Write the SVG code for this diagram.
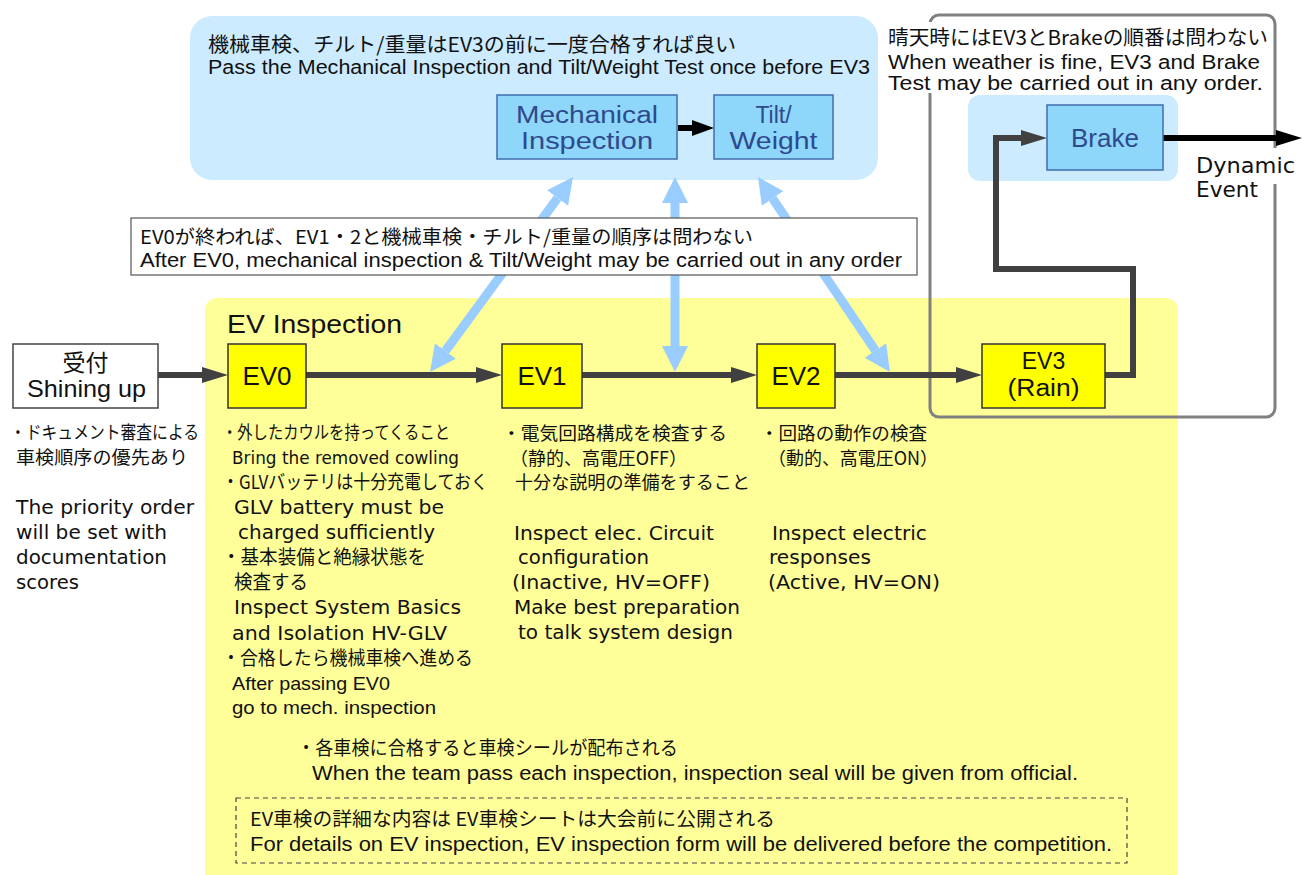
<svg xmlns="http://www.w3.org/2000/svg" width="1302" height="875" viewBox="0 0 1302 875">
<style>
  .jp { font-family: "Noto Sans CJK JP", "Noto Sans CJK SC", sans-serif; fill: #111; }
  .cn { font-family: "Liberation Sans", "Noto Sans CJK JP", sans-serif; fill: #111; }
  .vd { font-family: "DejaVu Sans", "Noto Sans CJK JP", sans-serif; fill: #111; }
  .ar { font-family: "Liberation Sans", Arial, sans-serif; fill: #111; }
  .blue-node { fill: #8ED6FA; stroke: #3F6EAD; stroke-width: 1.5; }
  .blue-txt { font-family: "Liberation Sans", Arial, sans-serif; fill: #2E4A8C; text-anchor: middle; }
  .ev-node { fill: #FFFF00; stroke: #333; stroke-width: 1.5; }
  .ev-txt { font-family: "Liberation Sans", Arial, sans-serif; fill: #111; text-anchor: middle; }
  .conn { fill: none; stroke: #404040; stroke-width: 6; stroke-linejoin: miter; }
  .conn-k { fill: none; stroke: #000; stroke-width: 6; }
  .biarrow { fill: none; stroke: #99CCFF; stroke-width: 9; }
</style>
<defs>
  <marker id="ah" viewBox="0 0 10 10" refX="0" refY="5" markerWidth="26" markerHeight="16" markerUnits="userSpaceOnUse" orient="auto" preserveAspectRatio="none">
    <path d="M0,0 L10,5 L0,10 z" fill="#404040"/>
  </marker>
  <marker id="ahk" viewBox="0 0 10 10" refX="0" refY="5" markerWidth="26" markerHeight="16" markerUnits="userSpaceOnUse" orient="auto" preserveAspectRatio="none">
    <path d="M0,0 L10,5 L0,10 z" fill="#000"/>
  </marker>
  <marker id="ahk2" viewBox="0 0 10 10" refX="0" refY="5" markerWidth="22" markerHeight="16" markerUnits="userSpaceOnUse" orient="auto" preserveAspectRatio="none">
    <path d="M0,0 L10,5 L0,10 z" fill="#000"/>
  </marker>
  <marker id="bh" viewBox="0 0 10 10" refX="0" refY="5" markerWidth="26" markerHeight="26" markerUnits="userSpaceOnUse" orient="auto-start-reverse" preserveAspectRatio="none">
    <path d="M0,0 L10,5 L0,10 z" fill="#99CCFF"/>
  </marker>
</defs>

<!-- background regions -->
<g id="ev-inspection-area">
  <path d="M205,875 V310 a12,12 0 0 1 12,-12 H1166 a12,12 0 0 1 12,12 V875 z" fill="#FFFF99"/>
  <text class="cn" x="227" y="333" font-size="26" textLength="175" lengthAdjust="spacingAndGlyphs">EV Inspection</text>
</g>
<g id="mech-area">
  <rect x="190" y="16" width="688" height="164" rx="22" fill="#CCEBFF"/>
  <text class="jp" x="208" y="52" font-size="20" textLength="528" lengthAdjust="spacingAndGlyphs">機械車検、チルト/重量はEV3の前に一度合格すれば良い</text>
  <text class="cn" x="208" y="74" font-size="20" textLength="662" lengthAdjust="spacingAndGlyphs">Pass the Mechanical Inspection and Tilt/Weight Test once before EV3</text>
</g>
<g id="brake-area">
  <rect x="968" y="95" width="210" height="86" rx="12" fill="#CCEBFF"/>
</g>
<g id="weather-area">
  <rect x="930" y="15" width="345" height="402" rx="9" fill="none" stroke="#808080" stroke-width="3"/>
  <rect x="886" y="22" width="384" height="71" fill="#FFFFFF"/>
  <text class="jp" x="888" y="45" font-size="20" textLength="380" lengthAdjust="spacingAndGlyphs">晴天時にはEV3とBrakeの順番は問わない</text>
  <text class="ar" x="888" y="69" font-size="20" textLength="372" lengthAdjust="spacingAndGlyphs">When weather is fine, EV3 and Brake</text>
  <text class="ar" x="888" y="90" font-size="20" textLength="375" lengthAdjust="spacingAndGlyphs">Test may be carried out in any order.</text>
</g>

<!-- connectors -->
<g id="connectors">
  <path class="biarrow" d="M445.4,351 L557.6,198" marker-start="url(#bh)" marker-end="url(#bh)"/>
  <path class="biarrow" d="M675,346 L675,203" marker-start="url(#bh)" marker-end="url(#bh)"/>
  <path class="biarrow" d="M875.4,350.5 L772.6,198.5" marker-start="url(#bh)" marker-end="url(#bh)"/>
  <path class="conn" d="M158,375 H202" marker-end="url(#ah)"/>
  <path class="conn" d="M306,375 H476" marker-end="url(#ah)"/>
  <path class="conn" d="M582,375 H731" marker-end="url(#ah)"/>
  <path class="conn" d="M835,375 H956" marker-end="url(#ah)"/>
  <path class="conn" d="M1105,375 H1133 V269 H996 V138 H1021" marker-end="url(#ah)"/>
  <path class="conn-k" d="M1163,138 H1276" marker-end="url(#ahk)"/>
  <path class="conn-k" d="M678,128 H692" marker-end="url(#ahk2)"/>
</g>

<g id="order-note">
  <rect x="131" y="218" width="786" height="57" fill="#FFFFFF" stroke="#555" stroke-width="1.2"/>
  <text class="jp" x="140" y="244" font-size="19" textLength="613" lengthAdjust="spacingAndGlyphs">EV0が終われば、EV1・2と機械車検・チルト/重量の順序は問わない</text>
  <text class="cn" x="140" y="267" font-size="20" textLength="762" lengthAdjust="spacingAndGlyphs">After EV0, mechanical inspection &amp; Tilt/Weight may be carried out in any order</text>
</g>

<g id="dynamic-label">
  <rect x="1193" y="148" width="105" height="36" fill="#FFFFFF"/>
  <text class="vd" x="1196" y="173" font-size="21" textLength="99" lengthAdjust="spacingAndGlyphs">Dynamic</text>
  <text class="vd" x="1196" y="197" font-size="21" textLength="62" lengthAdjust="spacingAndGlyphs">Event</text>
</g>

<!-- nodes -->
<g id="node-mechanical">
  <rect class="blue-node" x="497" y="95" width="180" height="64"/>
  <text class="blue-txt" x="587" y="123" font-size="23" textLength="142" lengthAdjust="spacingAndGlyphs">Mechanical</text>
  <text class="blue-txt" x="587" y="149" font-size="23" textLength="132" lengthAdjust="spacingAndGlyphs">Inspection</text>
</g>
<g id="node-tilt">
  <rect class="blue-node" x="714" y="95" width="119" height="64"/>
  <text class="blue-txt" x="773.5" y="123" font-size="23">Tilt/</text>
  <text class="blue-txt" x="773.5" y="149" font-size="23" textLength="88" lengthAdjust="spacingAndGlyphs">Weight</text>
</g>
<g id="node-brake">
  <rect class="blue-node" x="1047" y="105" width="116" height="65"/>
  <text class="blue-txt" x="1105" y="147" font-size="26">Brake</text>
</g>
<g id="node-reception">
  <rect x="13" y="344" width="145" height="64" fill="#FFFFFF" stroke="#444" stroke-width="1.5"/>
  <text class="jp" x="85.5" y="371" font-size="23" text-anchor="middle">受付</text>
  <text class="cn" x="27" y="397" font-size="24" textLength="119" lengthAdjust="spacingAndGlyphs">Shining up</text>
</g>
<g id="node-ev0">
  <rect class="ev-node" x="228" y="344" width="78" height="64"/>
  <text class="ev-txt" x="267" y="385" font-size="26">EV0</text>
</g>
<g id="node-ev1">
  <rect class="ev-node" x="502" y="344" width="80" height="64"/>
  <text class="ev-txt" x="542" y="385" font-size="26">EV1</text>
</g>
<g id="node-ev2">
  <rect class="ev-node" x="757" y="344" width="78" height="64"/>
  <text class="ev-txt" x="796" y="385" font-size="26">EV2</text>
</g>
<g id="node-ev3">
  <rect class="ev-node" x="982" y="344" width="123" height="64"/>
  <text class="ev-txt" x="1043.5" y="369" font-size="23">EV3</text>
  <text class="ev-txt" x="1043.5" y="396" font-size="23" textLength="72" lengthAdjust="spacingAndGlyphs">(Rain)</text>
</g>

<!-- descriptive texts -->
<g id="reception-notes">
  <text class="jp" x="10" y="439" font-size="18" textLength="189" lengthAdjust="spacingAndGlyphs">・ドキュメント審査による</text>
  <text class="jp" x="16" y="464" font-size="18" textLength="172" lengthAdjust="spacingAndGlyphs">車検順序の優先あり</text>
  <text class="vd" x="16" y="514" font-size="19" textLength="178" lengthAdjust="spacingAndGlyphs">The priority order</text>
  <text class="vd" x="16" y="539" font-size="19" textLength="151" lengthAdjust="spacingAndGlyphs">will be set with</text>
  <text class="vd" x="16" y="564" font-size="19" textLength="151" lengthAdjust="spacingAndGlyphs">documentation</text>
  <text class="vd" x="16" y="589" font-size="19" textLength="63" lengthAdjust="spacingAndGlyphs">scores</text>
</g>
<g id="ev0-notes">
  <text class="jp" x="222" y="439" font-size="18" textLength="228" lengthAdjust="spacingAndGlyphs">・外したカウルを持ってくること</text>
  <text class="vd" x="232" y="464" font-size="17" textLength="227" lengthAdjust="spacingAndGlyphs">Bring the removed cowling</text>
  <text class="jp" x="222" y="489" font-size="19" textLength="266" lengthAdjust="spacingAndGlyphs">・GLVバッテリは十分充電しておく</text>
  <text class="vd" x="234" y="514" font-size="19" textLength="210" lengthAdjust="spacingAndGlyphs">GLV battery must be</text>
  <text class="vd" x="238" y="539" font-size="19" textLength="197" lengthAdjust="spacingAndGlyphs">charged sufficiently</text>
  <text class="jp" x="222" y="564" font-size="19" textLength="204" lengthAdjust="spacingAndGlyphs">・基本装備と絶縁状態を</text>
  <text class="jp" x="234" y="589" font-size="19" textLength="74" lengthAdjust="spacingAndGlyphs">検査する</text>
  <text class="vd" x="234" y="614" font-size="19" textLength="227" lengthAdjust="spacingAndGlyphs">Inspect System Basics</text>
  <text class="vd" x="232" y="640" font-size="19" textLength="215" lengthAdjust="spacingAndGlyphs">and Isolation HV-GLV</text>
  <text class="jp" x="222" y="665" font-size="19" textLength="251" lengthAdjust="spacingAndGlyphs">・合格したら機械車検へ進める</text>
  <text class="cn" x="232" y="690" font-size="19" textLength="158" lengthAdjust="spacingAndGlyphs">After passing EV0</text>
  <text class="cn" x="232" y="714" font-size="19" textLength="204" lengthAdjust="spacingAndGlyphs">go to mech. inspection</text>
</g>
<g id="ev1-notes">
  <text class="jp" x="502" y="440" font-size="18" textLength="225" lengthAdjust="spacingAndGlyphs">・電気回路構成を検査する</text>
  <text class="jp" x="510" y="465" font-size="18" textLength="177" lengthAdjust="spacingAndGlyphs">（静的、高電圧OFF）</text>
  <text class="jp" x="515" y="489" font-size="18" textLength="235" lengthAdjust="spacingAndGlyphs">十分な説明の準備をすること</text>
  <text class="vd" x="514" y="540" font-size="19" textLength="200" lengthAdjust="spacingAndGlyphs">Inspect elec. Circuit</text>
  <text class="vd" x="518" y="564" font-size="19" textLength="131" lengthAdjust="spacingAndGlyphs">configuration</text>
  <text class="vd" x="512" y="589" font-size="19" textLength="198" lengthAdjust="spacingAndGlyphs">(Inactive, HV=OFF)</text>
  <text class="vd" x="514" y="614" font-size="19" textLength="226" lengthAdjust="spacingAndGlyphs">Make best preparation</text>
  <text class="vd" x="518" y="639" font-size="19" textLength="215" lengthAdjust="spacingAndGlyphs">to talk system design</text>
</g>
<g id="ev2-notes">
  <text class="jp" x="760" y="440" font-size="18" textLength="167" lengthAdjust="spacingAndGlyphs">・回路の動作の検査</text>
  <text class="jp" x="768" y="465" font-size="18" textLength="170" lengthAdjust="spacingAndGlyphs">（動的、高電圧ON）</text>
  <text class="vd" x="772" y="540" font-size="19" textLength="155" lengthAdjust="spacingAndGlyphs">Inspect electric</text>
  <text class="vd" x="769" y="564" font-size="19" textLength="102" lengthAdjust="spacingAndGlyphs">responses</text>
  <text class="vd" x="768" y="589" font-size="19" textLength="172" lengthAdjust="spacingAndGlyphs">(Active, HV=ON)</text>
</g>
<g id="seal-note">
  <text class="jp" x="297" y="755" font-size="19" textLength="381" lengthAdjust="spacingAndGlyphs">・各車検に合格すると車検シールが配布される</text>
  <text class="cn" x="312" y="780" font-size="20" textLength="766" lengthAdjust="spacingAndGlyphs">When the team pass each inspection, inspection seal will be given from official.</text>
</g>
<g id="details-note">
  <rect x="236" y="798" width="891" height="65" fill="none" stroke="#444" stroke-width="1.2" stroke-dasharray="5,4"/>
  <text class="jp" x="250" y="826" font-size="19" textLength="525" lengthAdjust="spacingAndGlyphs">EV車検の詳細な内容は EV車検シートは大会前に公開される</text>
  <text class="cn" x="250" y="851" font-size="20" textLength="862" lengthAdjust="spacingAndGlyphs">For details on EV inspection, EV inspection form will be delivered before the competition.</text>
</g>
</svg>
